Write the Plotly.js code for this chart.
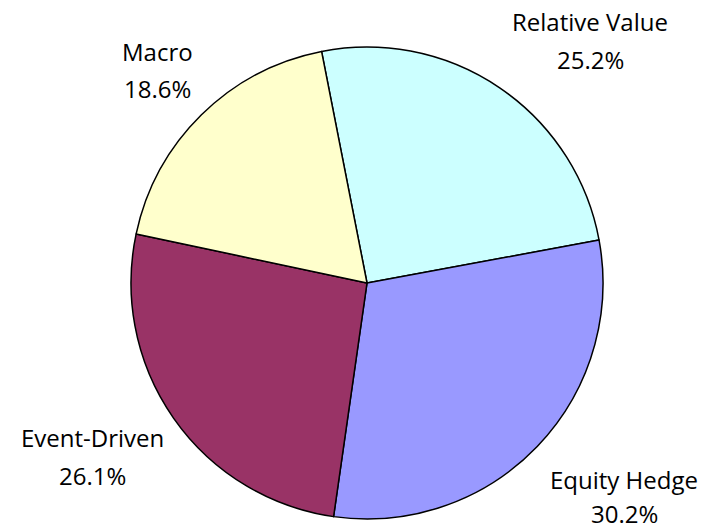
<!DOCTYPE html>
<html>
<head>
<meta charset="utf-8">
<script src="https://cdn.plot.ly/plotly-3.0.1.min.js"></script>
<style>html,body{margin:0;padding:0;background:#fff;}#chart{width:713px;height:529px;}</style>
</head>
<body>
<div id="chart"></div>
<script>
const categories = ["Relative Value", "Equity Hedge", "Event-Driven", "Macro"];
const shares = [25.2, 30.2, 26.1, 18.6];
const sliceColors = ["#CCFFFF", "#9999FF", "#993366", "#FFFFCC"];

// label anchor positions in pixels (name line, percent line)
const labelPos = [
  {x: 590, y1: 22, y2: 60},
  {x: 624, y1: 479, y2: 513},
  {x: 92, y1: 437, y2: 475},
  {x: 157, y1: 51, y2: 88}
];

const W = 713, H = 529;
const labelFont = {family: '"Open Sans", sans-serif', size: 24, color: '#000'};
const annotations = [];
categories.forEach((c, i) => {
  const p = labelPos[i];
  annotations.push({xref: 'paper', yref: 'paper', x: p.x / W, y: 1 - p.y1 / H,
    xanchor: 'center', yanchor: 'middle', showarrow: false, text: c, font: labelFont, borderpad: 0});
  annotations.push({xref: 'paper', yref: 'paper', x: p.x / W, y: 1 - p.y2 / H,
    xanchor: 'center', yanchor: 'middle', showarrow: false, text: shares[i].toFixed(1) + '%', font: labelFont, borderpad: 0});
});

const trace = {
  type: 'pie',
  labels: categories,
  values: shares,
  sort: false,
  direction: 'clockwise',
  rotation: -11.1,
  marker: {colors: sliceColors, line: {color: '#000', width: 1.5}},
  textinfo: 'none',
  hoverinfo: 'label+percent',
  showlegend: false,
  domain: {x: [131 / W, 603 / W], y: [10 / H, 482 / H]}
};

Plotly.newPlot('chart', [trace], {
  width: W, height: H,
  margin: {l: 0, r: 0, t: 0, b: 0},
  paper_bgcolor: '#fff',
  showlegend: false,
  annotations: annotations
}, {displayModeBar: false, staticPlot: true});
</script>
</body>
</html>
